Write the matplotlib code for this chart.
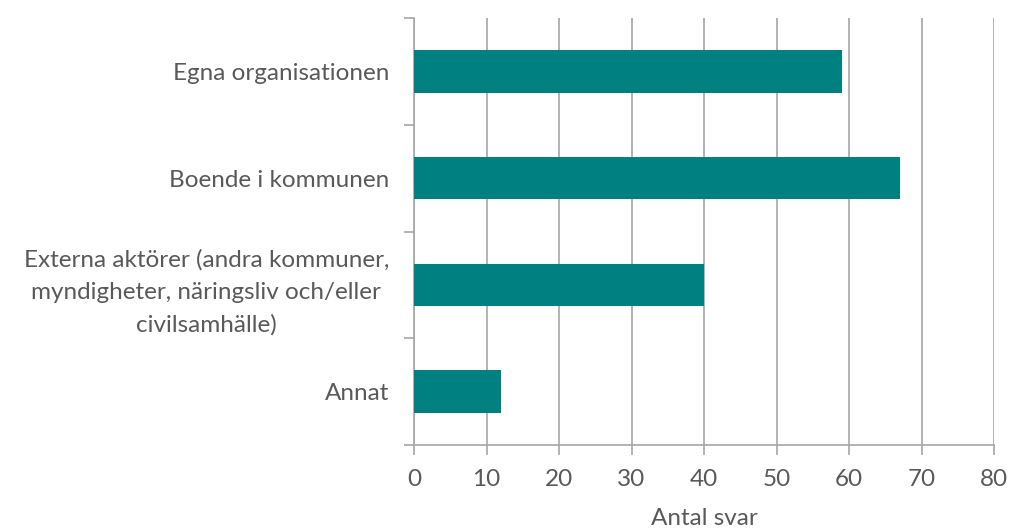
import matplotlib
matplotlib.use("Agg")
import matplotlib.pyplot as plt
import numpy as np

categories = ["Egna organisationen", "Boende i kommunen",
              "Externa aktörer (andra kommuner,\nmyndigheter, näringsliv och/eller\ncivilsamhälle)",
              "Annat"]
values = [59, 67, 40, 12]
xticks = [0, 10, 20, 30, 40, 50, 60, 70, 80]

plt.rcParams['font.family'] = ['Lato', 'DejaVu Sans']
text_color = '#595959'
grid_color = '#a6a6a6'
bar_color = '#008080'
fs = 17.5

fig = plt.figure(figsize=(10.1, 5.32), dpi=100)
ax = fig.add_axes([414/1010, 1-445/532, (994-414)/1010, (445-18)/532])

n = len(categories)
ypos = np.arange(n)
ax.barh(ypos, values, height=0.4, color=bar_color, zorder=3)
ax.set_ylim(n-0.5, -0.5)
ax.set_xlim(0, 80)
ax.set_xticks(xticks)
ax.set_xticklabels([str(t) for t in xticks], fontsize=fs, color=text_color)
ax.set_yticks(ypos)
ax.set_yticklabels(categories, fontsize=fs, color=text_color, multialignment='center',
                   linespacing=1.65)
ax.set_yticks(np.arange(-0.5, n, 1), minor=True)
ax.tick_params(axis='y', which='major', length=0, pad=18)
ax.tick_params(axis='y', which='minor', length=7, color=grid_color, width=1.2)
ax.tick_params(axis='x', which='major', length=7, color=grid_color, width=1.2, pad=10)
ax.xaxis.grid(True, color=grid_color, linewidth=1.2, zorder=0)
for s in ['top', 'right']:
    ax.spines[s].set_visible(False)
for s in ['left', 'bottom']:
    ax.spines[s].set_color(grid_color)
    ax.spines[s].set_linewidth(1.2)
ax.set_xlabel("Antal svar", fontsize=fs, color=text_color, labelpad=13)

fig.savefig("out.png", dpi=100)
